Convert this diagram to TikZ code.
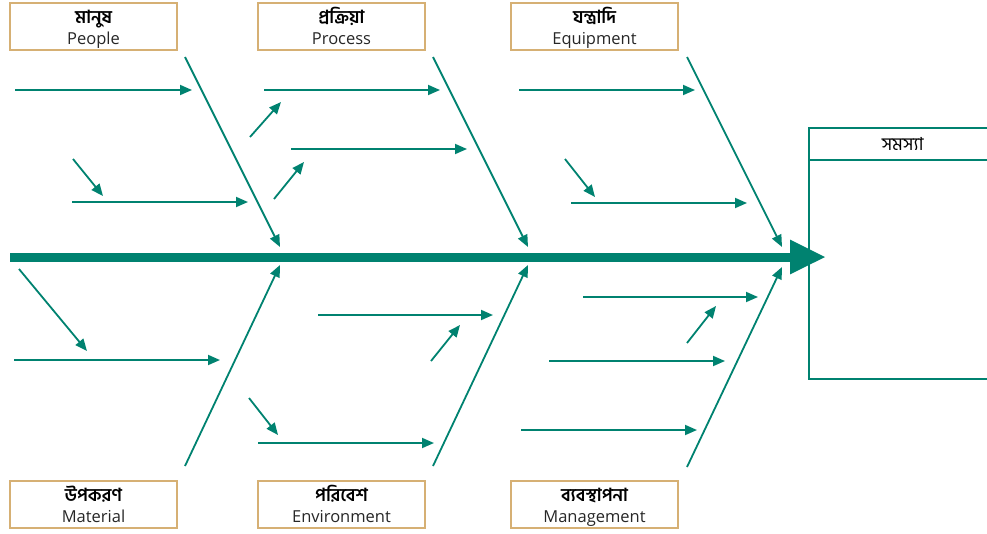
\documentclass[tikz,border=0pt]{standalone}
\usepackage{fontspec}
\setmainfont{Open Sans}
\newfontfamily\bnfont[Script=Bengali]{Hind Siliguri}
\usetikzlibrary{arrows.meta}
\definecolor{fishteal}{RGB}{0,130,112}
\definecolor{boxtan}{RGB}{214,176,116}

% two-line label of a cause box: Bengali name over English name
\newcommand{\causetext}[2]{\rule{0pt}{19pt}\smash{{\bnfont\bfseries\fontsize{18}{18}\selectfont\color{black}#1}}\\[1pt]#2\rule[-4pt]{0pt}{4pt}}

\tikzset{
  cause/.style={draw=boxtan, line width=1.5pt, minimum width=167pt, minimum height=47pt,
    align=center, inner sep=0pt, font=\fontsize{16.5}{20}\selectfont, text=black!85},
  bone/.style={draw=fishteal, line width=1.8pt, -{Triangle[length=12pt,width=10pt]}},
  spine/.style={draw=fishteal, line width=9pt, -{Triangle[length=36pt,width=32pt]}}
}

\begin{document}
\begin{tikzpicture}[x=1pt,y=-1pt]
\useasboundingbox (0,0) rectangle (987,533);

% Cause boxes (top)
\node[cause] (people) at (93.5,26.5) {\causetext{মানুষ}{People}};
\node[cause] (process) at (341.5,26.5) {\causetext{প্রক্রিয়া}{Process}};
\node[cause] (equipment) at (594.5,26.5) {\causetext{যন্ত্রাদি}{Equipment}};

% Cause boxes (bottom)
\node[cause] (material) at (93.5,504.5) {\causetext{উপকরণ}{Material}};
\node[cause] (environment) at (341.5,504.5) {\causetext{পরিবেশ}{Environment}};
\node[cause] (management) at (594.5,504.5) {\causetext{ব্যবস্থাপনা}{Management}};

% Problem box
\node[draw=fishteal, line width=1.5pt, anchor=north west, minimum width=188pt,
  minimum height=251pt, inner sep=0pt] (problem) at (808,127) {};
\draw[fishteal, line width=1.5pt] ([yshift=-33pt]problem.north west) -- ([yshift=-33pt]problem.north east);
\node[font=\bnfont\fontsize{18}{18}\selectfont] (problemtitle) at ([yshift=-17pt]problem.north) {সমস্যা};

% Spine
\draw[spine] (10,257) -- (826,257);

% People
\draw[bone] (185,57) -- (280,247);
\draw[bone] (15,90) -- (192,90);
\draw[bone] (73,159) -- (103,196);
\draw[bone] (72,202) -- (248,202);

% Process
\draw[bone] (433,57) -- (528,247);
\draw[bone] (264,90) -- (440,90);
\draw[bone] (250,137) -- (281,102);
\draw[bone] (291,149) -- (467,149);
\draw[bone] (274,199) -- (304,162);

% Equipment
\draw[bone] (687,57) -- (782,247);
\draw[bone] (519,90) -- (695,90);
\draw[bone] (565,159) -- (595,197);
\draw[bone] (571,203) -- (747,203);

% Material
\draw[bone] (185,466) -- (280,265);
\draw[bone] (19,269) -- (87,351);
\draw[bone] (14,360) -- (220,360);

% Environment
\draw[bone] (433,466) -- (528,265);
\draw[bone] (318,315) -- (493,315);
\draw[bone] (431,361) -- (460,325);
\draw[bone] (249,398) -- (278,435);
\draw[bone] (258,443) -- (434,443);

% Management
\draw[bone] (687,467) -- (782,267);
\draw[bone] (583,297) -- (758,297);
\draw[bone] (687,343) -- (716,306);
\draw[bone] (549,361) -- (725,361);
\draw[bone] (521,430) -- (697,430);

\end{tikzpicture}
\end{document}
